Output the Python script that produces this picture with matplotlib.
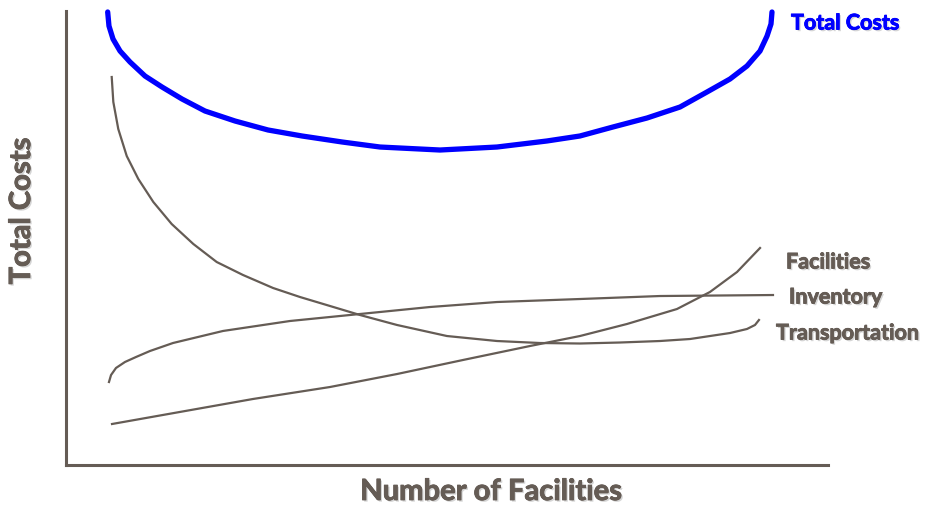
import matplotlib
matplotlib.use("Agg")
import matplotlib.pyplot as plt
import matplotlib.patheffects as pe

# Data (normalized: number of facilities 0-100, cost 0-100)
total_x = [5.47, 5.64, 6.17, 7.09, 8.40, 10.37, 12.60, 15.22, 18.24, 22.18, 26.51, 30.97, 36.22,
           41.21, 49.08, 56.56, 63.12, 67.45, 71.78, 76.25, 80.58, 84.12, 87.14, 89.37, 91.08,
           92.00, 92.52, 92.65]
total_y = [99.78, 96.70, 93.83, 91.19, 88.77, 85.68, 83.26, 80.62, 77.97, 75.77, 73.79, 72.47, 71.15,
           70.04, 69.38, 70.04, 71.37, 72.47, 74.45, 76.43, 78.85, 82.16, 85.02, 87.89, 91.19,
           94.49, 97.14, 99.78]

transp_x = [6.00, 6.21, 6.86, 7.97, 9.49, 11.46, 13.87, 16.71, 19.78, 23.23, 27.17, 30.71, 34.65,
            38.58, 43.44, 49.99, 56.56, 62.20, 67.45, 72.70, 77.95, 81.89, 84.51, 87.14, 89.37,
            90.42, 90.94]
transp_y = [85.46, 79.96, 74.01, 68.06, 63.00, 57.93, 53.08, 48.68, 44.71, 41.85, 38.99, 37.00, 35.02,
            33.04, 30.84, 28.41, 27.31, 26.87, 26.76, 26.98, 27.31, 27.75, 28.41, 29.07, 29.96,
            30.84, 31.94]

inv_x = [5.64, 5.91, 6.56, 7.74, 9.19, 11.02, 14.04, 20.60, 29.40, 38.58, 47.77, 56.56, 67.45, 77.95, 92.78]
inv_y = [18.28, 19.82, 21.37, 22.69, 23.79, 25.11, 26.87, 29.52, 31.72, 33.26, 34.80, 35.90, 36.56, 37.22, 37.44]

fac_x = [6.04, 24.54, 34.65, 43.44, 52.10, 60.89, 67.45, 73.62, 80.18, 84.51, 88.06, 91.08]
fac_y = [9.03, 14.54, 17.18, 20.04, 23.13, 26.21, 28.41, 31.06, 34.36, 38.11, 42.51, 47.80]

labels = ["Total Costs", "Facilities", "Inventory", "Transportation"]
axis_x_label = "Number of Facilities"
axis_y_label = "Total Costs"

GRAY = "#655c55"
BLUE = "#0000ff"

plt.rcParams['font.family'] = ['Lato', 'DejaVu Sans']

fig = plt.figure(figsize=(9.32, 5.10), dpi=100)
ax = fig.add_axes([66/932, 44/510, 762/932, 454/510])
ax.set_xlim(0, 100)
ax.set_ylim(0, 100)
for s in ['top', 'right']:
    ax.spines[s].set_visible(False)
for s in ['left', 'bottom']:
    ax.spines[s].set_color(GRAY)
    ax.spines[s].set_linewidth(2.2)
ax.set_xticks([])
ax.set_yticks([])

ax.plot(total_x, total_y, color=BLUE, lw=3.8, solid_capstyle='round', solid_joinstyle='round', clip_on=False)
for xs, ys in [(transp_x, transp_y), (inv_x, inv_y), (fac_x, fac_y)]:
    ax.plot(xs, ys, color=GRAY, lw=1.6, solid_joinstyle='round', clip_on=False)


def fx(color):
    return [pe.withSimplePatchShadow(offset=(1.2, -1.2), shadow_rgbFace='#888888', alpha=0.35),
            pe.Stroke(linewidth=0.6, foreground=color), pe.Normal()]


lab_fs = 15.5
fig.text(791/932, 1 - 24/510, labels[0], color=BLUE, fontsize=lab_fs, fontweight='bold',
         ha='left', va='center', path_effects=fx(BLUE))
fig.text(786/932, 1 - 263/510, labels[1], color=GRAY, fontsize=lab_fs, fontweight='bold',
         ha='left', va='center', path_effects=fx(GRAY))
fig.text(789/932, 1 - 298/510, labels[2], color=GRAY, fontsize=lab_fs, fontweight='bold',
         ha='left', va='center', path_effects=fx(GRAY))
fig.text(776/932, 1 - 334/510, labels[3], color=GRAY, fontsize=lab_fs, fontweight='bold',
         ha='left', va='center', path_effects=fx(GRAY))

fig.text(491/932, 1 - 493/510, axis_x_label, color=GRAY, fontsize=21, fontweight='bold',
         ha='center', va='center', path_effects=fx(GRAY))
fig.text(22/932, 1 - 212/510, axis_y_label, color=GRAY, fontsize=21, fontweight='bold',
         ha='center', va='center', rotation=90, path_effects=fx(GRAY))

fig.savefig("out.png", dpi=100, facecolor='white')
